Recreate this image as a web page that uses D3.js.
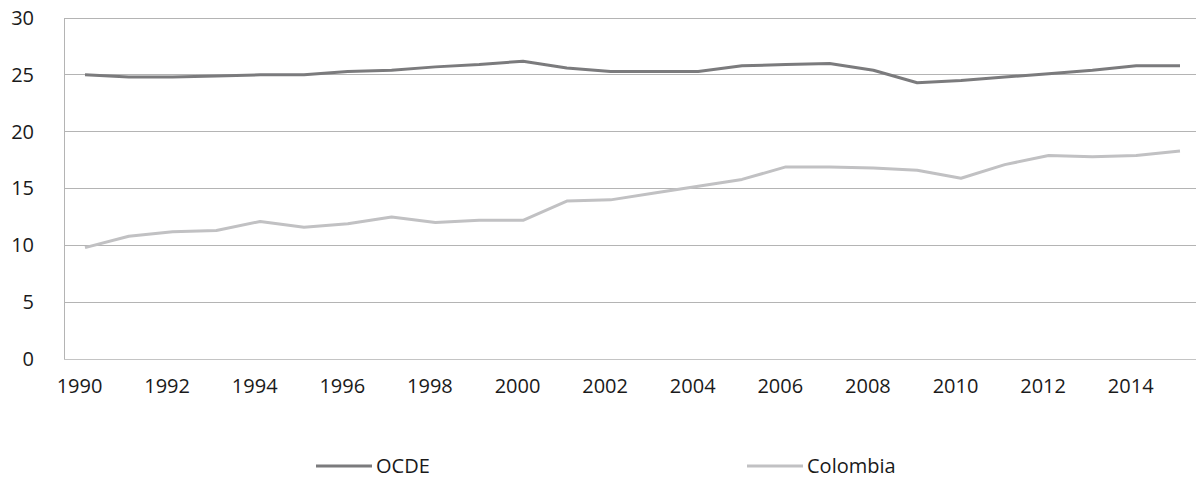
<!DOCTYPE html>
<html>
<head>
<meta charset="utf-8">
<script src="https://cdn.jsdelivr.net/npm/d3@7"></script>
<style>
  html, body { margin: 0; padding: 0; background: #fff; }
  svg { display: block; font-family: "Open Sans", "Noto Sans", sans-serif; }
</style>
</head>
<body>
<svg id="chart" width="1196" height="479"></svg>
<script>
// Years on the horizontal axis
const years = d3.range(1990, 2016);
// Values for each series, one per year
const ocdeValues = [25.0, 24.8, 24.8, 24.9, 25.0, 25.0, 25.3, 25.4, 25.7, 25.9,
                    26.2, 25.6, 25.3, 25.3, 25.3, 25.8, 25.9, 26.0, 25.4, 24.3,
                    24.5, 24.8, 25.1, 25.4, 25.8, 25.8];
const colombiaValues = [9.8, 10.8, 11.2, 11.3, 12.1, 11.6, 11.9, 12.5, 12.0, 12.2,
                        12.2, 13.9, 14.0, 14.6, 15.2, 15.8, 16.9, 16.9, 16.8, 16.6,
                        15.9, 17.1, 17.9, 17.8, 17.9, 18.3];
// Axis labels
const yTicks = [0, 5, 10, 15, 20, 25, 30];
const xTickYears = years.filter(y => y % 2 === 0);
const seriesNames = ["OCDE", "Colombia"];
const seriesColors = ["#7b7b7d", "#c1c1c3"];

const svg = d3.select("#chart");
const plotLeft = 64, plotRight = 1196, plotTop = 18, plotBottom = 359;

const x = d3.scalePoint().domain(years).range([85, 1180]);
const y = d3.scaleLinear().domain([0, 30]).range([plotBottom, plotTop]);

// Horizontal gridlines
svg.append("g")
  .selectAll("line")
  .data(yTicks.filter(t => t > 0))
  .join("line")
  .attr("x1", plotLeft).attr("x2", plotRight)
  .attr("y1", d => y(d)).attr("y2", d => y(d))
  .attr("stroke", "#b4b4b4").attr("stroke-width", 1)
  .attr("shape-rendering", "crispEdges");

// Baseline and vertical axis line
svg.append("line")
  .attr("x1", plotLeft).attr("x2", plotRight)
  .attr("y1", y(0)).attr("y2", y(0))
  .attr("stroke", "#c4c4c4").attr("stroke-width", 1)
  .attr("shape-rendering", "crispEdges");
svg.append("line")
  .attr("x1", plotLeft).attr("x2", plotLeft)
  .attr("y1", y(30)).attr("y2", y(0))
  .attr("stroke", "#b4b4b4").attr("stroke-width", 1)
  .attr("shape-rendering", "crispEdges");

// Y axis labels
const yAxis = d3.axisLeft(y).tickValues(yTicks).tickSize(0).tickPadding(30);
const gy = svg.append("g").attr("transform", `translate(${plotLeft},0)`).call(yAxis);
gy.select(".domain").remove();
gy.selectAll("text")
  .attr("font-family", "'Open Sans', 'Noto Sans', sans-serif")
  .attr("font-size", 20).attr("fill", "#1a1a1a");

// X axis labels
const xAxis = d3.axisBottom(x).tickValues(xTickYears).tickSize(0).tickPadding(0);
const gx = svg.append("g").attr("transform", `translate(-6,${y(0) + 20})`).call(xAxis);
gx.select(".domain").remove();
gx.selectAll("text")
  .attr("font-family", "'Open Sans', 'Noto Sans', sans-serif")
  .attr("font-size", 20).attr("fill", "#1a1a1a");

// Series lines
const line = d3.line().x((d, i) => x(years[i])).y(d => y(d));
[ocdeValues, colombiaValues].forEach((vals, k) => {
  svg.append("path")
    .datum(vals)
    .attr("d", line)
    .attr("fill", "none")
    .attr("stroke", seriesColors[k])
    .attr("stroke-width", 3)
    .attr("stroke-linejoin", "round");
});

// Legend
const legendX = [316, 747];
const legend = svg.append("g");
seriesNames.forEach((name, k) => {
  legend.append("line")
    .attr("x1", legendX[k]).attr("x2", legendX[k] + 56)
    .attr("y1", 466).attr("y2", 466)
    .attr("stroke", seriesColors[k]).attr("stroke-width", 3);
  legend.append("text")
    .attr("x", legendX[k] + 60).attr("y", 466)
    .attr("dy", "0.35em")
    .attr("font-size", 20).attr("fill", "#1a1a1a")
    .text(name);
});
</script>
</body>
</html>
